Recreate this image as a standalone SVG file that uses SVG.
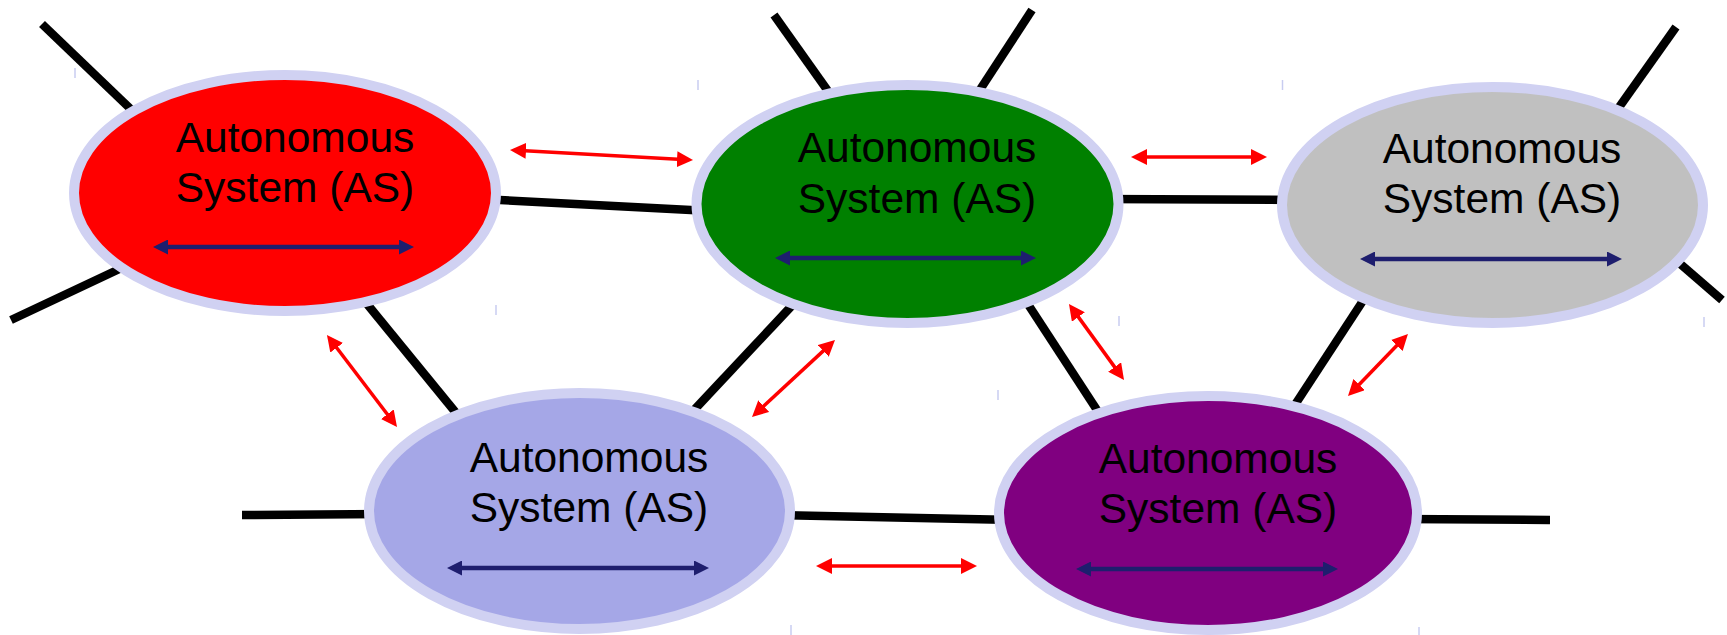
<svg xmlns="http://www.w3.org/2000/svg" width="1727" height="635" viewBox="0 0 1727 635">
<defs>
<style>
.link{stroke:#000;stroke-width:8.5;stroke-linecap:butt;fill:none}
.peer{stroke:#FF0000;stroke-width:3.5;fill:none;marker-start:url(#redHead);marker-end:url(#redHead)}
.intra{stroke:#1E1E6E;stroke-width:4.5;fill:none;marker-start:url(#blueHead);marker-end:url(#blueHead)}
.as{stroke:#D0D1F2;stroke-width:10}
.lbl{font-family:"Liberation Sans",Arial,sans-serif;font-size:42.5px;fill:#000;text-anchor:middle}
.tick{stroke:#C8CCF0;stroke-width:1.5}
</style>
<marker id="redHead" markerUnits="userSpaceOnUse" markerWidth="16" markerHeight="16" refX="10" refY="8" orient="auto-start-reverse" viewBox="0 0 16 16">
<path d="M0,0 L16,8 L0,16 z" fill="#FF0000"/>
</marker>
<marker id="blueHead" markerUnits="userSpaceOnUse" markerWidth="15" markerHeight="15" refX="9" refY="7.5" orient="auto-start-reverse" viewBox="0 0 15 15">
<path d="M0,0 L15,7.5 L0,15 z" fill="#1E1E6E"/>
</marker>
</defs>
<rect width="1727" height="635" fill="#fff"/>
<g id="connectors">
<line class="link" x1="42" y1="24" x2="140" y2="118"/>
<line class="link" x1="11" y1="320" x2="130" y2="264"/>
<line class="link" x1="480" y1="199" x2="710" y2="211"/>
<line class="link" x1="345" y1="277" x2="470" y2="430"/>
<line class="link" x1="774" y1="15" x2="840" y2="108"/>
<line class="link" x1="1032" y1="10" x2="970" y2="105"/>
<line class="link" x1="800" y1="297" x2="680" y2="425"/>
<line class="link" x1="1020" y1="292" x2="1110" y2="430"/>
<line class="link" x1="1100" y1="199" x2="1300" y2="200"/>
<line class="link" x1="1676" y1="27" x2="1610" y2="120"/>
<line class="link" x1="1670" y1="255" x2="1722" y2="300"/>
<line class="link" x1="1370" y1="290" x2="1285" y2="420"/>
<line class="link" x1="242" y1="515" x2="385" y2="514"/>
<line class="link" x1="775" y1="515" x2="1015" y2="520"/>
<line class="link" x1="1400" y1="519" x2="1550" y2="520"/>
<line class="peer" x1="516" y1="150.3" x2="687" y2="159.7"/>
<line class="peer" x1="1137" y1="157" x2="1261" y2="157"/>
<line class="peer" x1="330.6" y1="339.8" x2="393.4" y2="422.2"/>
<line class="peer" x1="830.6" y1="344.1" x2="756.4" y2="412.9"/>
<line class="peer" x1="1072.5" y1="308.9" x2="1120.5" y2="375.1"/>
<line class="peer" x1="1403.8" y1="338.3" x2="1352.2" y2="391.7"/>
<line class="peer" x1="822" y1="566" x2="971" y2="566"/>
</g>
<g id="as-red">
<ellipse class="as" cx="285" cy="193" rx="211" ry="118" fill="#FF0000"/>
<text class="lbl" x="295" y="152">Autonomous</text>
<text class="lbl" x="295" y="202">System (AS)</text>
<line class="intra" x1="159" y1="247" x2="408" y2="247"/>
</g>
<g id="as-green">
<ellipse class="as" cx="907.5" cy="204" rx="211" ry="119" fill="#008000"/>
<text class="lbl" x="917" y="162">Autonomous</text>
<text class="lbl" x="917" y="213">System (AS)</text>
<line class="intra" x1="781" y1="258" x2="1030" y2="258"/>
</g>
<g id="as-gray">
<ellipse class="as" cx="1492.5" cy="205" rx="210.5" ry="118" fill="#C0C0C0"/>
<text class="lbl" x="1502" y="163">Autonomous</text>
<text class="lbl" x="1502" y="213">System (AS)</text>
<line class="intra" x1="1366" y1="259" x2="1616" y2="259"/>
</g>
<g id="as-lavender">
<ellipse class="as" cx="579.5" cy="511" rx="210.5" ry="118" fill="#A5A7E7"/>
<text class="lbl" x="589" y="472">Autonomous</text>
<text class="lbl" x="589" y="522">System (AS)</text>
<line class="intra" x1="453" y1="568" x2="703" y2="568"/>
</g>
<g id="as-purple">
<ellipse class="as" cx="1208" cy="513" rx="209" ry="117" fill="#800080"/>
<text class="lbl" x="1218" y="473">Autonomous</text>
<text class="lbl" x="1218" y="523">System (AS)</text>
<line class="intra" x1="1082" y1="569" x2="1332" y2="569"/>
</g>
<g id="marks">
<line class="tick" x1="75" y1="68" x2="75" y2="78"/>
<line class="tick" x1="496" y1="305" x2="496" y2="315"/>
<line class="tick" x1="698" y1="80" x2="698" y2="90"/>
<line class="tick" x1="1119" y1="316" x2="1119" y2="326"/>
<line class="tick" x1="1282.5" y1="80" x2="1282.5" y2="90"/>
<line class="tick" x1="1704" y1="317" x2="1704" y2="327"/>
<line class="tick" x1="791" y1="625" x2="791" y2="635"/>
<line class="tick" x1="998" y1="390" x2="998" y2="400"/>
<line class="tick" x1="1419" y1="627" x2="1419" y2="635"/>
</g>
</svg>
